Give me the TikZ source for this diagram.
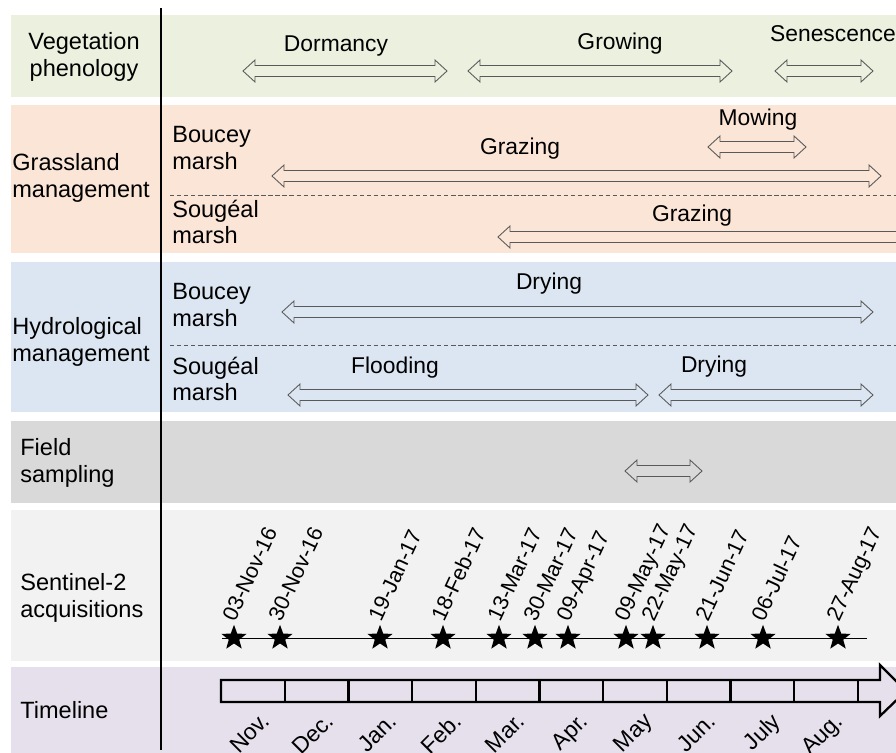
\documentclass[tikz,border=0pt]{standalone}
\usepackage{fontspec}
\setmainfont{Liberation Sans}
\usetikzlibrary{shapes.geometric}

\definecolor{vegbg}{HTML}{EBF1DE}
\definecolor{grassbg}{HTML}{FBE5D6}
\definecolor{hydrobg}{HTML}{DCE6F2}
\definecolor{fieldbg}{HTML}{D9D9D9}
\definecolor{senbg}{HTML}{F2F2F2}
\definecolor{timebg}{HTML}{E5E0EC}

% open double arrow from x=#1 to x=#2 at height #3
\newcommand{\period}[3]{%
  \draw[spanarrow] (#1,#3) -- (#1+12,#3-11) -- (#1+12,#3-5.5) -- (#2-12,#3-5.5)
    -- (#2-12,#3-11) -- (#2,#3) -- (#2-12,#3+11) -- (#2-12,#3+5.5)
    -- (#1+12,#3+5.5) -- (#1+12,#3+11) -- cycle;}

\begin{document}
\begin{tikzpicture}[x=0.02cm, y=-0.02cm,
  rowlab/.style={align=left, anchor=west, inner sep=0, font=\fontsize{13.4}{15.3}\selectfont},
  sublab/.style={rowlab},
  phaselab/.style={anchor=base, inner sep=0, font=\fontsize{13}{15.3}\selectfont},
  datelab/.style={rotate=65, anchor=base west, inner sep=0, font=\fontsize{12.3}{14}\selectfont},
  monthlab/.style={rotate=45, anchor=north east, inner sep=0, font=\fontsize{13}{15}\selectfont},
  spanarrow/.style={draw=black!65, line width=.5pt, line join=miter},
  sepline/.style={draw=black!65, line width=.5pt, dash pattern=on 2.5pt off 1.5pt},
  starmark/.style={star, star points=5, star point ratio=2.4, fill=black, inner sep=0, minimum size=15pt},
  timeline/.style={draw=black, line width=1.3pt, line join=miter}]
\useasboundingbox (0,0) rectangle (896,753);

% bands
\fill [vegbg] (11,15) rectangle (896,97);
\fill [grassbg] (11,105) rectangle (896,253);
\fill [hydrobg] (11,262) rectangle (896,412);
\fill [fieldbg] (11,421) rectangle (896,503);
\fill [senbg] (11,510) rectangle (896,661);
\fill [timebg] (11,667) rectangle (896,753);

\draw [sepline] (170,195) -- (896,195);
\draw [sepline] (170,345) -- (896,345);
\draw [line width=1pt] (161,8) -- (161,750);

% row titles
\node [align=center, inner sep=0, font=\fontsize{13.4}{15.3}\selectfont] (veg) at (84,57) {Vegetation\\phenology};
\node [rowlab] (grass) at (12,178) {Grassland\\management};
\node [rowlab] (hydro) at (12,342) {Hydrological\\management};
\node [rowlab] (field) at (20,463) {Field\\sampling};
\node [rowlab] (senti) at (20,598) {Sentinel-2\\acquisitions};
\node [rowlab] (tline) at (20,710) {Timeline};

\node [sublab] (gbou) at (172,148) {Boucey\\marsh};
\node [sublab] (gsou) at (172,222) {Sougéal\\marsh};
\node [sublab] (hbou) at (172,305) {Boucey\\marsh};
\node [sublab] (hsou) at (172,379) {Sougéal\\marsh};

% periods
\period{243}{447}{71}
\period{468}{732}{71}
\period{775}{873}{71}
\node [phaselab] (dorm) at (336,52) {Dormancy};
\node [phaselab] (grow) at (620,50) {Growing};
\node [phaselab] (sene) at (833,42) {Senescence};

\period{708}{806}{147}
\period{272}{881}{176}
\period{498}{910}{237}
\node [phaselab] (mow) at (758,126) {Mowing};
\node [phaselab] (grazb) at (520,155) {Grazing};
\node [phaselab] (grazs) at (692,222) {Grazing};

\period{282}{873}{312}
\period{288}{648}{395}
\period{659}{873}{395}
\node [phaselab] (dryb) at (549,290) {Drying};
\node [phaselab] (flood) at (395,373) {Flooding};
\node [phaselab] (drys) at (714,372) {Drying};

\period{625}{702}{471}

% acquisitions
\draw [line width=.5pt] (222,638) -- (867,638);
\node [starmark] (s1) at (234,638) {};
\node [starmark] (s2) at (280,638) {};
\node [starmark] (s3) at (380,638) {};
\node [starmark] (s4) at (443,638) {};
\node [starmark] (s5) at (499,638) {};
\node [starmark] (s6) at (535,638) {};
\node [starmark] (s7) at (568,638) {};
\node [starmark] (s8) at (626,638) {};
\node [starmark] (s9) at (653,638) {};
\node [starmark] (s10) at (707,638) {};
\node [starmark] (s11) at (763,638) {};
\node [starmark] (s12) at (838,638) {};
\node [datelab] (d1) at (235,623) {03-Nov-16};
\node [datelab] (d2) at (281,623) {30-Nov-16};
\node [datelab] (d3) at (381,623) {19-Jan-17};
\node [datelab] (d4) at (444,623) {18-Feb-17};
\node [datelab] (d5) at (500,623) {13-Mar-17};
\node [datelab] (d6) at (536,623) {30-Mar-17};
\node [datelab] (d7) at (569,623) {09-Apr-17};
\node [datelab] (d8) at (627,623) {09-May-17};
\node [datelab] (d9) at (654,623) {22-May-17};
\node [datelab] (d10) at (708,623) {21-Jun-17};
\node [datelab] (d11) at (764,623) {06-Jul-17};
\node [datelab] (d12) at (839,623) {27-Aug-17};

% timeline arrow
\draw [timeline] (221,680) -- (880,680) -- (880,665) -- (906,691) -- (880,716)
  -- (880,702) -- (221,702) -- cycle;
\foreach \x in {284.7,348.4,412.1,475.8,539.5,603.2,666.9,730.6,794.3,858}
  \draw [timeline] (\x,680) -- (\x,702);
\node [monthlab] (m1) at (260,711) {Nov.};
\node [monthlab] (m2) at (324,711) {Dec.};
\node [monthlab] (m3) at (387,711) {Jan.};
\node [monthlab] (m4) at (451,711) {Feb.};
\node [monthlab] (m5) at (515,711) {Mar.};
\node [monthlab] (m6) at (578,711) {Apr.};
\node [monthlab] (m7) at (642,711) {May};
\node [monthlab] (m8) at (706,711) {Jun.};
\node [monthlab] (m9) at (770,711) {July};
\node [monthlab] (m10) at (833,711) {Aug.};
\end{tikzpicture}
\end{document}
